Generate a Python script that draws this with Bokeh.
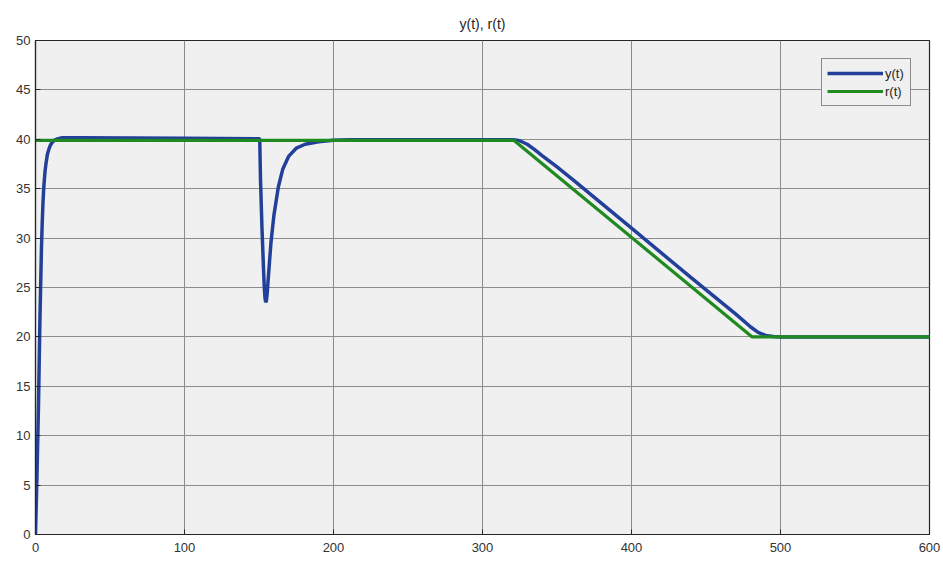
from bokeh.plotting import figure
from bokeh.models import Range1d, FixedTicker
from bokeh.embed import file_html
from bokeh.resources import INLINE

# y(t): plant output
y_t = [0, 1, 2, 3, 4, 4.5, 5, 5.5, 6, 6.5, 7, 8, 9, 10, 11, 12, 13, 14, 18, 30, 100, 150,
       150.5, 151, 152, 153, 153.5, 154, 154.5, 155, 155.5, 156, 157, 158, 160, 163, 166, 170, 175, 181, 190, 200, 210,
       321, 325, 330, 335, 340, 350, 360, 400, 440, 470, 480, 485, 490, 495, 500, 600]
y_v = [0, 6, 13, 22, 29, 31.5, 33.5, 35, 36, 36.9, 37.5, 38.5, 39.0, 39.4, 39.65, 39.8, 39.95, 40.0, 40.15, 40.15, 40.1, 40.05,
       40.0, 36, 31, 27, 25.2, 24.0, 23.5, 23.7, 24.4, 25.5, 27.5, 29.5, 32.3, 35.2, 37, 38.3, 39.1, 39.5, 39.75, 39.9, 39.95,
       39.95, 39.85, 39.5, 38.95, 38.35, 37.2, 36.0, 31.0, 26.0, 22.3, 21.0, 20.45, 20.15, 20.05, 20.0, 20.0]

# r(t): reference signal
r_t = [0, 321, 481, 600]
r_v = [39.9, 39.9, 20.0, 20.0]

x_ticks = [0, 100, 200, 300, 400, 500, 600]
y_ticks = [0, 5, 10, 15, 20, 25, 30, 35, 40, 45, 50]

BLUE = "#22409a"
GREEN = "#1f8a1f"
FONT = "Liberation Sans"

p = figure(width=943, height=566, output_backend="svg", toolbar_location=None,
           x_range=Range1d(0, 600), y_range=Range1d(0, 50),
           title="y(t), r(t)",
           min_border_left=35, min_border_right=14, min_border_top=40, min_border_bottom=32)

p.background_fill_color = "#f0f0f0"
p.border_fill_color = "white"
p.outline_line_color = "#262626"
p.outline_line_width = 1.2

p.title.align = "center"
p.title.text_font = FONT
p.title.text_font_size = "14px"
p.title.text_font_style = "normal"
p.title.text_color = "#262626"
p.title.standoff = 17

p.line(y_t, y_v, line_color=BLUE, line_width=3.5, legend_label="y(t)")
p.line(r_t, r_v, line_color=GREEN, line_width=3.2, legend_label="r(t)")

p.xaxis.ticker = FixedTicker(ticks=x_ticks)
p.yaxis.ticker = FixedTicker(ticks=y_ticks)
for ax in (p.xaxis[0], p.yaxis[0]):
    ax.axis_line_color = "#262626"
    ax.axis_line_width = 1.2
    ax.major_tick_in = 5
    ax.major_tick_out = 0
    ax.major_tick_line_color = "#262626"
    ax.minor_tick_line_color = None
    ax.major_label_text_font = FONT
    ax.major_label_text_font_size = "13px"
    ax.major_label_text_color = "#333333"
p.xaxis.major_label_standoff = 8
p.yaxis.major_label_standoff = 5

p.grid.grid_line_color = "#8c8c8c"
p.grid.grid_line_width = 1
p.grid.grid_line_alpha = 1.0

p.legend.location = "top_right"
p.legend.margin = 18
p.legend.background_fill_color = "#f0f0f0"
p.legend.background_fill_alpha = 1.0
p.legend.border_line_color = "#262626"
p.legend.border_line_width = 1
p.legend.glyph_width = 56
p.legend.glyph_height = 18
p.legend.label_standoff = 2
p.legend.padding = 5
p.legend.spacing = 0
p.legend.label_text_font = FONT
p.legend.label_text_font_size = "13px"
p.legend.label_text_color = "#262626"
p.legend.label_height = 18

open("out.html", "w").write(file_html(p, INLINE))
